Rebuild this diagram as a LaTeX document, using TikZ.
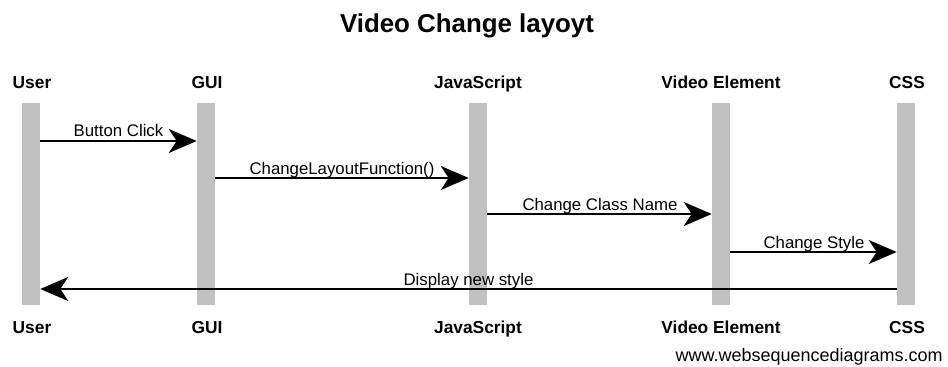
\documentclass[tikz,border=0pt]{standalone}
\usepackage{fontspec}
\setmainfont{Liberation Sans}
\usetikzlibrary{arrows.meta}
\definecolor{barGray}{HTML}{C0C0C0}
\tikzset{
  lifeline/.style={fill=barGray, draw=none, minimum width=18*0.75pt, minimum height=202*0.75pt, inner sep=0pt},
  actor/.style={anchor=base, inner sep=0pt, font=\fontsize{13}{15}\selectfont\bfseries},
  msg/.style={line width=1.5pt, -{Stealth[length=21pt, width=18pt, inset=6pt]}},
  msglabel/.style={anchor=base, inner sep=0pt, font=\fontsize{12.6}{15}\selectfont},
}
\begin{document}
\begin{tikzpicture}[x=0.75pt, y=-0.75pt]
  \useasboundingbox (0,0) rectangle (948,367);
  \fill[white] (0,0) rectangle (948,367);

  % title
  \node[anchor=base, inner sep=0pt, font=\fontsize{19.4}{22}\selectfont\bfseries] (title) at (467,33) {Video Change layoyt};

  % lifelines
  \node[lifeline] (user) at (31,204) {};
  \node[lifeline] (gui) at (206,204) {};
  \node[lifeline] (js) at (478,204) {};
  \node[lifeline] (video) at (721,204) {};
  \node[lifeline] (css) at (906,204) {};

  % participant names, top and bottom
  \node[actor] (userT) at (32,89) {User};
  \node[actor] (guiT) at (207,89) {GUI};
  \node[actor] (jsT) at (478,89) {JavaScript};
  \node[actor] (videoT) at (721,89) {Video Element};
  \node[actor] (cssT) at (907,89) {CSS};
  \node[actor] (userB) at (32,333) {User};
  \node[actor] (guiB) at (207,333) {GUI};
  \node[actor] (jsB) at (478,333) {JavaScript};
  \node[actor] (videoB) at (721,333) {Video Element};
  \node[actor] (cssB) at (907,333) {CSS};

  % messages
  \draw[msg] (user.east |- 0,141) -- (gui.west |- 0,141);
  \node[msglabel] (m1) at (118.5,137) {Button Click};

  \draw[msg] (gui.east |- 0,178) -- (js.west |- 0,178);
  \node[msglabel] (m2) at (342,174) {ChangeLayoutFunction()};

  \draw[msg] (js.east |- 0,214) -- (video.west |- 0,214);
  \node[msglabel] (m3) at (600,210) {Change Class Name};

  \draw[msg] (video.east |- 0,252) -- (css.west |- 0,252);
  \node[msglabel] (m4) at (814,248) {Change Style};

  \draw[msg] (css.west |- 0,289) -- (user.east |- 0,289);
  \node[msglabel] (m5) at (468.5,285) {Display new style};

  % credit line
  \node[anchor=base east, inner sep=0pt, font=\fontsize{13.5}{16}\selectfont] (credit) at (943,361) {www.websequencediagrams.com};
\end{tikzpicture}
\end{document}
